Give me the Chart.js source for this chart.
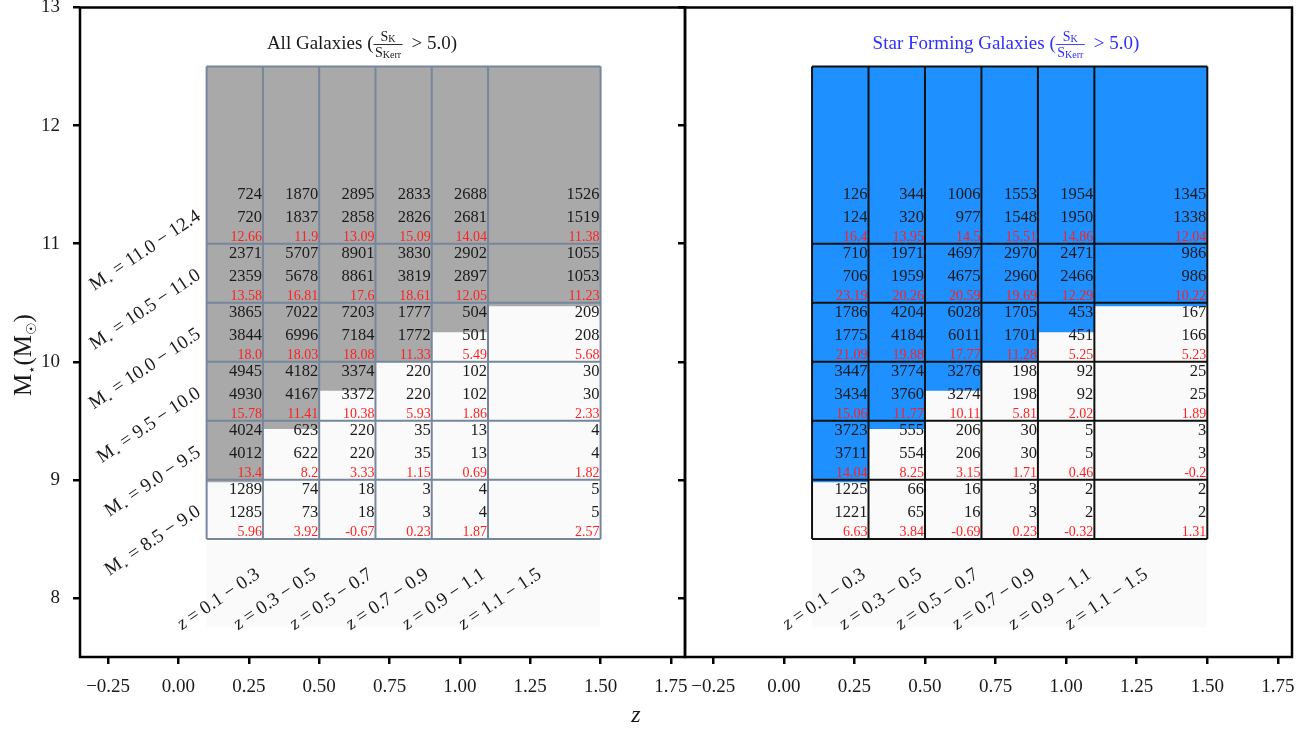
<!DOCTYPE html>
<html>
<head>
<meta charset="utf-8">
<script src="https://cdn.jsdelivr.net/npm/chart.js@4.4.0/dist/chart.umd.min.js"></script>
<style>
  html, body { margin: 0; padding: 0; background: #ffffff; }
  body { width: 1309px; height: 731px; position: relative; overflow: hidden; }
  canvas { position: absolute; top: 0; }
  #allChart { left: 0; }
  #sfChart { left: 640px; }
</style>
</head>
<body>
<canvas id="allChart" width="700" height="731"></canvas>
<canvas id="sfChart" width="669" height="731"></canvas>
<script>
// ---- bins ----
const zEdges = [0.1, 0.3, 0.5, 0.7, 0.9, 1.1, 1.5];
const massEdges = [8.5, 9.0, 9.5, 10.0, 10.5, 11.0, 12.5];
const zBinLabels = ['0.1 − 0.3', '0.3 − 0.5', '0.5 − 0.7', '0.7 − 0.9', '0.9 − 1.1', '1.1 − 1.5'];
const massBinLabels = ['8.5 − 9.0', '9.0 − 9.5', '9.5 − 10.0', '10.0 − 10.5', '10.5 − 11.0', '11.0 − 12.4'];

// ---- axis ticks ----
const xTicks = [-0.25, 0.0, 0.25, 0.5, 0.75, 1.0, 1.25, 1.5, 1.75];
const yTicks = [8, 9, 10, 11, 12, 13];

// lower edge of the densely populated region in each z bin
const massLimit = [8.98, 9.43, 9.755, 10.0, 10.25, 10.47];
// lower edge of the sparse tail of sources
const sparseLimit = 7.75;

// ---- counts (rows: low to high mass, columns: z bins) ----
const allTotal = [
  [1289, 74, 18, 3, 4, 5],
  [4024, 623, 220, 35, 13, 4],
  [4945, 4182, 3374, 220, 102, 30],
  [3865, 7022, 7203, 1777, 504, 209],
  [2371, 5707, 8901, 3830, 2902, 1055],
  [724, 1870, 2895, 2833, 2688, 1526]
];
const allDetected = [
  [1285, 73, 18, 3, 4, 5],
  [4012, 622, 220, 35, 13, 4],
  [4930, 4167, 3372, 220, 102, 30],
  [3844, 6996, 7184, 1772, 501, 208],
  [2359, 5678, 8861, 3819, 2897, 1053],
  [720, 1837, 2858, 2826, 2681, 1519]
];
const allSignal = [
  [5.96, 3.92, -0.67, 0.23, 1.87, 2.57],
  [13.4, 8.2, 3.33, 1.15, 0.69, 1.82],
  [15.78, 11.41, 10.38, 5.93, 1.86, 2.33],
  [18.0, 18.03, 18.08, 11.33, 5.49, 5.68],
  [13.58, 16.81, 17.6, 18.61, 12.05, 11.23],
  [12.66, 11.9, 13.09, 15.09, 14.04, 11.38]
];

const sfTotal = [
  [1225, 66, 16, 3, 2, 2],
  [3723, 555, 206, 30, 5, 3],
  [3447, 3774, 3276, 198, 92, 25],
  [1786, 4204, 6028, 1705, 453, 167],
  [710, 1971, 4697, 2970, 2471, 986],
  [126, 344, 1006, 1553, 1954, 1345]
];
const sfDetected = [
  [1221, 65, 16, 3, 2, 2],
  [3711, 554, 206, 30, 5, 3],
  [3434, 3760, 3274, 198, 92, 25],
  [1775, 4184, 6011, 1701, 451, 166],
  [706, 1959, 4675, 2960, 2466, 986],
  [124, 320, 977, 1548, 1950, 1338]
];
const sfSignal = [
  [6.63, 3.84, -0.69, 0.23, -0.32, 1.31],
  [14.04, 8.25, 3.15, 1.71, 0.46, -0.2],
  [15.06, 11.77, 10.11, 5.81, 2.02, 1.89],
  [21.09, 19.88, 17.77, 11.28, 5.25, 5.23],
  [23.19, 20.26, 20.59, 19.69, 12.29, 10.22],
  [16.4, 13.95, 14.5, 15.51, 14.86, 12.04]
];

const SERIF = "'Liberation Serif', 'DejaVu Serif', 'DejaVu Sans', serif";
const font = (size, style) => `${style ? style + ' ' : ''}${size}px ${SERIF}`;
const fmtSignal = v => Number.isInteger(v) ? v.toFixed(1) : String(v);
const ROT = -34 * Math.PI / 180;

// points of the completeness step: one per bin left edge, plus the last edge
function stepPoints(limits) {
  const pts = limits.map((m, i) => ({ x: zEdges[i], y: m }));
  pts.push({ x: zEdges[zEdges.length - 1], y: limits[limits.length - 1] });
  return pts;
}

// draw a sequence of text runs (different sizes / vertical shifts) as one label
function drawRuns(ctx, runs, x, y, align) {
  let total = 0;
  const widths = runs.map(r => { ctx.font = font(r.size, r.style); const w = ctx.measureText(r.t).width; total += w; return w; });
  let cx = align === 'right' ? x - total : align === 'center' ? x - total / 2 : x;
  ctx.textAlign = 'left';
  runs.forEach((r, i) => {
    ctx.font = font(r.size, r.style);
    ctx.fillText(r.t, cx, y + (r.dy || 0));
    cx += widths[i];
  });
}

function drawTitle(ctx, p, cx, base) {
  ctx.fillStyle = p.titleColor;
  ctx.strokeStyle = p.titleColor;
  ctx.textAlign = 'left';
  ctx.textBaseline = 'alphabetic';
  ctx.font = font(19); const w1 = ctx.measureText(p.title).width;
  const w3 = ctx.measureText('> 5.0)').width;
  ctx.font = font(14); const sW = ctx.measureText('S').width;
  ctx.font = font(10); const kW = ctx.measureText('K').width; const kerrW = ctx.measureText('Kerr').width;
  const numW = sW + kW, denW = sW + kerrW;
  const fw = denW + 3, gap = 9;
  let x = cx - (w1 + fw + gap + w3) / 2;
  ctx.font = font(19); ctx.fillText(p.title, x, base); x += w1;
  const nx = x + (fw - numW) / 2;
  ctx.font = font(14); ctx.fillText('S', nx, base - 8.5);
  ctx.font = font(10); ctx.fillText('K', nx + sW, base - 7);
  const dx = x + (fw - denW) / 2;
  ctx.font = font(14); ctx.fillText('S', dx, base + 7.5);
  ctx.font = font(10); ctx.fillText('Kerr', dx + sW, base + 9);
  ctx.lineWidth = 0.9;
  ctx.beginPath(); ctx.moveTo(x, base - 4.5); ctx.lineTo(x + fw, base - 4.5); ctx.stroke();
  x += fw + gap;
  ctx.font = font(19); ctx.fillText('> 5.0)', x, base);
}

function tablePlugin(p) {
  return {
    id: 'table_' + p.canvas,
    afterDraw(chart) {
      const ctx = chart.ctx, xs = chart.scales.x, ys = chart.scales.y, a = chart.chartArea;
      ctx.save();

      // cell borders
      ctx.strokeStyle = p.gridColor;
      ctx.lineWidth = 2;
      const xl = xs.getPixelForValue(zEdges[0]), xr = xs.getPixelForValue(zEdges[zEdges.length - 1]);
      const yb = ys.getPixelForValue(massEdges[0]), yt = ys.getPixelForValue(massEdges[massEdges.length - 1]);
      ctx.beginPath();
      zEdges.forEach(z => { const px = xs.getPixelForValue(z); ctx.moveTo(px, yb); ctx.lineTo(px, yt); });
      massEdges.forEach(m => { const py = ys.getPixelForValue(m); ctx.moveTo(xl, py); ctx.lineTo(xr, py); });
      ctx.stroke();

      // cell numbers
      ctx.textAlign = 'right';
      ctx.textBaseline = 'alphabetic';
      for (let r = 0; r < massEdges.length - 1; r++) {
        const cellBottom = ys.getPixelForValue(massEdges[r]);
        for (let c = 0; c < zEdges.length - 1; c++) {
          const right = xs.getPixelForValue(zEdges[c + 1]) - 1;
          ctx.fillStyle = '#1a1a1a';
          ctx.font = font(16.5);
          ctx.fillText(String(p.total[r][c]), right, cellBottom - 45);
          ctx.fillText(String(p.detected[r][c]), right, cellBottom - 22);
          ctx.fillStyle = '#ff1f1f';
          ctx.font = font(14);
          ctx.fillText(fmtSignal(p.signal[r][c]), right, cellBottom - 2.5);
        }
      }

      // mass bin labels
      ctx.fillStyle = '#1a1a1a';
      if (p.rowLabels) {
        massBinLabels.forEach((lab, r) => {
          ctx.save();
          ctx.translate(xs.getPixelForValue(zEdges[0]) - 5, ys.getPixelForValue(massEdges[r]) - 25);
          ctx.rotate(ROT);
          drawRuns(ctx, [{ t: 'M', size: 19 }, { t: '⋆', size: 10, dy: 4 }, { t: ' = ' + lab, size: 19 }], 0, 0, 'right');
          ctx.restore();
        });
      }
      // redshift bin labels
      zBinLabels.forEach((lab, c) => {
        ctx.save();
        ctx.translate(xs.getPixelForValue(zEdges[c] + 0.2) - 2, ys.getPixelForValue(8.177));
        ctx.rotate(ROT);
        drawRuns(ctx, [{ t: 'z', size: 19, style: 'italic' }, { t: ' = ' + lab, size: 19 }], 0, 0, 'right');
        ctx.restore();
      });

      // title
      drawTitle(ctx, p, p.titleCenter, 49);

      // axes frame
      ctx.strokeStyle = '#000';
      ctx.lineWidth = 2.5;
      ctx.strokeRect(a.left, a.top, a.right - a.left, a.bottom - a.top);

      // shared axis titles
      if (p.axisTitles) {
        ctx.fillStyle = '#1a1a1a';
        ctx.textBaseline = 'alphabetic';
        ctx.save();
        ctx.translate(31, 355);
        ctx.rotate(-Math.PI / 2);
        drawRuns(ctx, [{ t: 'M', size: 25 }, { t: '⋆', size: 13, dy: 5 }, { t: '(M', size: 25 }, { t: '☉', size: 14, dy: 5 }, { t: ')', size: 25 }], 0, 0, 'center');
        ctx.restore();
        ctx.font = font(24, 'italic');
        ctx.textAlign = 'center';
        ctx.fillText('z', 636, 722);
      }
      ctx.restore();
    }
  };
}

const panels = [
  { canvas: 'allChart', title: 'All Galaxies (', titleColor: '#1a1a1a', titleCenter: 362,
    fill: '#a9a9a9', gridColor: '#76869c', total: allTotal, detected: allDetected, signal: allSignal,
    rowLabels: true, axisTitles: true, showYLabels: true, padRight: 15, yWidth: 80 },
  { canvas: 'sfChart', title: 'Star Forming Galaxies (', titleColor: '#2f2fff', titleCenter: 366,
    fill: '#1e90ff', gridColor: '#111111', total: sfTotal, detected: sfDetected, signal: sfSignal,
    rowLabels: false, axisTitles: false, showYLabels: false, padRight: 17, yWidth: 45 }
];

panels.forEach(p => {
  new Chart(document.getElementById(p.canvas), {
    type: 'line',
    data: {
      datasets: [
        { label: 'sparse', data: stepPoints(massLimit), stepped: true, fill: { value: sparseLimit },
          backgroundColor: 'rgba(0,0,0,0.018)', borderWidth: 0, pointRadius: 0 },
        { label: 'dense', data: stepPoints(massLimit), stepped: true, fill: { value: massEdges[massEdges.length - 1] },
          backgroundColor: p.fill, borderWidth: 0, pointRadius: 0 }
      ]
    },
    options: {
      responsive: false,
      animation: false,
      events: [],
      layout: { padding: { left: 0, top: 7.5, right: p.padRight, bottom: 0 } },
      plugins: { legend: { display: false }, tooltip: { enabled: false } },
      scales: {
        x: {
          type: 'linear', min: -0.35, max: 1.8,
          afterBuildTicks: s => { s.ticks = xTicks.map(v => ({ value: v })); },
          afterFit: s => { s.height = 74; s.paddingLeft = 0; s.paddingRight = 0; },
          ticks: {
            color: '#1a1a1a', padding: 12, maxRotation: 0, autoSkip: false,
            font: { family: SERIF, size: 19 },
            callback: v => v.toFixed(2).replace('-', '−')
          },
          grid: { drawOnChartArea: false, drawTicks: true, tickLength: 7, tickWidth: 2.5, tickColor: '#000', lineWidth: 2.5, color: '#000' },
          border: { display: false }
        },
        y: {
          type: 'linear', min: 7.5, max: 13,
          afterBuildTicks: s => { s.ticks = yTicks.map(v => ({ value: v })); },
          afterFit: s => { s.width = p.yWidth; s.paddingTop = 0; s.paddingBottom = 0; },
          ticks: {
            display: p.showYLabels, color: '#1a1a1a', padding: 13, autoSkip: false,
            font: { family: SERIF, size: 19 },
            callback: v => String(v)
          },
          grid: { drawOnChartArea: false, drawTicks: true, tickLength: 7, tickWidth: 2.5, tickColor: '#000', lineWidth: 2.5, color: '#000' },
          border: { display: false }
        }
      }
    },
    plugins: [tablePlugin(p)]
  });
});
</script>
</body>
</html>
